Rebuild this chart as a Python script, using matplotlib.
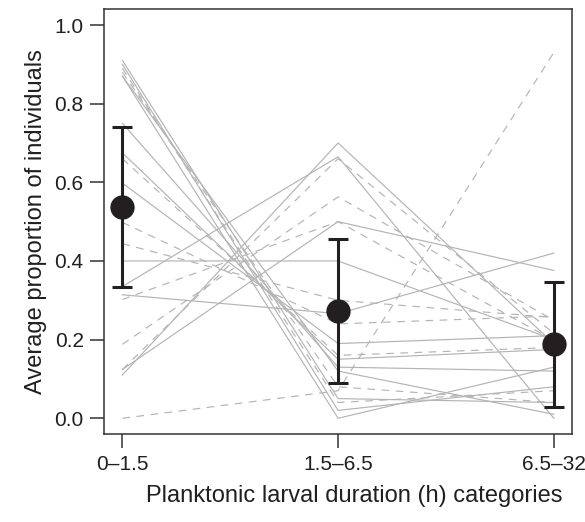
import matplotlib
matplotlib.use("Agg")
import matplotlib.pyplot as plt

plt.rcParams['font.family'] = ['Liberation Sans', 'DejaVu Sans']

categories = ["0\u20131.5", "1.5\u20136.5", "6.5\u201332"]

# Individual study profiles: proportion in each PLD category
solid_series = [
    [0.91, 0.05, 0.04],
    [0.90, 0.02, 0.08],
    [0.87, 0.12, 0.01],
    [0.87, 0.00, 0.13],
    [0.75, 0.13, 0.12],
    [0.675, 0.15, 0.175],
    [0.598, 0.19, 0.21],
    [0.40, 0.40, 0.20],
    [0.335, 0.665, 0.00],
    [0.314, 0.266, 0.42],
    [0.124, 0.50, 0.376],
    [0.11, 0.70, 0.19],
]
dashed_series = [
    [0.89, 0.04, 0.07],
    [0.88, 0.08, 0.04],
    [0.66, 0.16, 0.18],
    [0.498, 0.24, 0.26],
    [0.444, 0.30, 0.256],
    [0.302, 0.50, 0.198],
    [0.188, 0.563, 0.249],
    [0.124, 0.66, 0.216],
    [0.00, 0.07, 0.93],
]

# Overall means with 95% intervals
mean_values = [0.538, 0.274, 0.188]
ci_lower = [0.334, 0.090, 0.028]
ci_upper = [0.740, 0.456, 0.347]

fig = plt.figure(figsize=(5.85, 5.22), dpi=100)
ax = fig.add_axes([0.1786, 0.1686, 0.9773 - 0.1786, 0.9822 - 0.1686])

x = list(range(len(categories)))
grey = "#b4b4b4"
for s in solid_series:
    ax.plot(x, s, color=grey, lw=0.85, solid_joinstyle="miter", zorder=1)
for s in dashed_series:
    ax.plot(x, s, color=grey, lw=0.85, linestyle=(0, (6.5, 5.5)), zorder=1)

yerr = [[m - lo for m, lo in zip(mean_values, ci_lower)],
        [hi - m for m, hi in zip(mean_values, ci_upper)]]
ax.errorbar(x, mean_values, yerr=yerr, fmt="o", color="#231f20",
            ecolor="#231f20", elinewidth=2.2, capsize=7.5, capthick=2.2,
            markersize=16.5, zorder=3)

ax.set_xlim(-0.083, 2.083)
ax.set_ylim(-0.04, 1.04)
ax.set_xticks(x)
ax.set_xticklabels(categories)
ax.set_yticks([0.0, 0.2, 0.4, 0.6, 0.8, 1.0])
ax.set_yticklabels(["0.0", "0.2", "0.4", "0.6", "0.8", "1.0"])

for sp in ax.spines.values():
    sp.set_linewidth(1.1)
    sp.set_color("#333333")
ax.tick_params(axis="both", length=10, width=1.1, color="#333333",
               labelsize=15, labelcolor="#231f20", pad=5)

ax.set_xlabel("Planktonic larval duration (h) categories", fontsize=17,
              color="#231f20", labelpad=8)
ax.xaxis.label.set_x(0.534)
ax.set_ylabel("Average proportion of individuals", fontsize=17,
              color="#231f20", labelpad=5)

fig.savefig("out.png", dpi=100)
